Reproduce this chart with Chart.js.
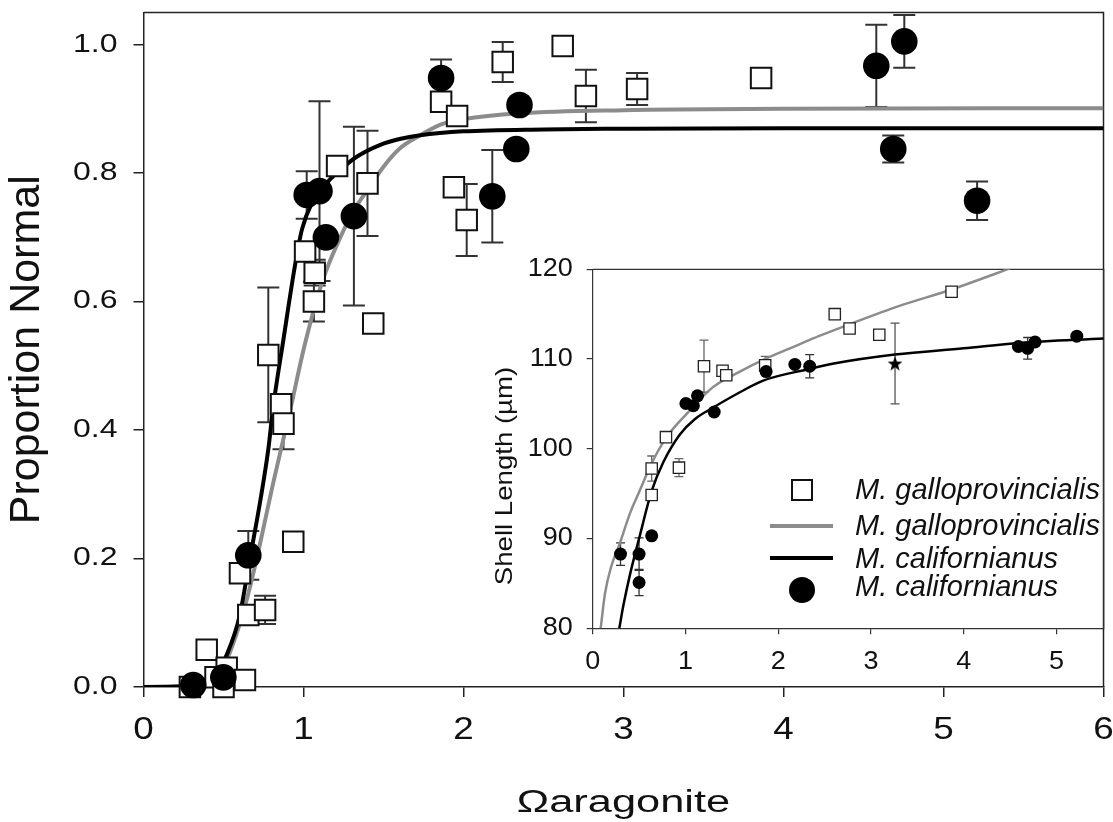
<!DOCTYPE html>
<html>
<head>
<meta charset="utf-8">
<script src="https://cdn.jsdelivr.net/npm/chart.js@4/dist/chart.umd.min.js"></script>
<style>
  html, body { margin: 0; padding: 0; background: #fff; }
  #wrap { position: relative; width: 1113px; height: 822px; overflow: hidden; background: #fff; }
  #main { position: absolute; left: 0; top: -4px; }
  #inset { position: absolute; left: 470px; top: 240px; }
  .sym { position: absolute; box-sizing: border-box; }
  .lt { position: absolute; left: 855px; font-family: 'Liberation Sans', Arial, sans-serif; font-style: italic;
        font-size: 29px; line-height: 29px; height: 29px; color: #111; white-space: nowrap; }
</style>
</head>
<body>
<div id="wrap">
  <canvas id="main" width="1120" height="826" style="width:1120px;height:826px"></canvas>
  <canvas id="inset" width="643" height="450" style="width:643px;height:450px"></canvas>
  <div class="sym" style="left:791px;top:479px;width:22px;height:22px;border:2px solid #111;background:#fff"></div>
  <div class="sym" style="left:770px;top:524px;width:63px;height:4px;background:#8c8c8c"></div>
  <div class="sym" style="left:770px;top:556px;width:63px;height:4px;background:#000"></div>
  <div class="sym" style="left:789px;top:577px;width:26px;height:26px;border-radius:50%;background:#000"></div>
  <div class="lt" style="top:475px">M. galloprovincialis</div>
  <div class="lt" style="top:511px">M. galloprovincialis</div>
  <div class="lt" style="top:544px">M. californianus</div>
  <div class="lt" style="top:572px">M. californianus</div>
</div>
<script>
// ---------------- data: main panel (proportion normal vs Omega aragonite) ----------------
const mainXTicks = [0, 1, 2, 3, 4, 5, 6];
const mainXTickLabels = ['0', '1', '2', '3', '4', '5', '6'];
const mainYTicks = [0, 0.2, 0.4, 0.6, 0.8, 1.0];
const mainYTickLabels = ['0.0', '0.2', '0.4', '0.6', '0.8', '1.0'];

const mainGalloX = [0.29, 0.395, 0.45, 0.52, 0.50, 0.634, 0.603, 0.655, 0.76, 0.936, 0.86, 0.875, 0.78, 1.01, 1.07, 1.065, 1.21, 1.40, 1.436, 1.86, 1.96, 1.94, 2.02, 2.245, 2.62, 2.765, 3.085, 3.86];
const mainGalloY = [0.0, 0.058, 0.015, 0.03, 0.0, 0.011, 0.177, 0.112, 0.12, 0.226, 0.44, 0.41, 0.517, 0.678, 0.645, 0.60, 0.811, 0.784, 0.566, 0.911, 0.889, 0.778, 0.727, 0.973, 0.998, 0.92, 0.931, 0.948];
const mainGalloErr = [0, 0, 0, 0, 0, 0, 0, 0, 0.022, 0, 0, 0.04, 0.105, 0, 0.02, 0.031, 0, 0.082, 0, 0, 0, 0, 0.056, 0.031, 0, 0.041, 0.025, 0];

const mainCalX = [0.311, 0.499, 0.655, 1.02, 1.10, 1.14, 1.315, 1.86, 2.18, 2.33, 2.35, 4.58, 4.755, 4.686, 5.21];
const mainCalY = [0.003, 0.015, 0.205, 0.766, 0.772, 0.70, 0.733, 0.948, 0.764, 0.8375, 0.906, 0.967, 1.005, 0.8375, 0.757];
const mainCalErr = [0, 0, 0.038, 0.037, 0.14, 0, 0.139, 0.029, 0.072, 0, 0, 0.064, 0.041, 0.021, 0.03];

// fitted curves
const fitGalloX = [0, 0.3, 0.4, 0.46, 0.52, 0.6, 0.665, 0.73, 0.81, 0.92, 1.01, 1.12, 1.23, 1.31, 1.415, 1.5, 1.6, 1.73, 1.86, 2.0, 2.35, 3.0, 4.0, 6.0];
const fitGalloY = [0, 0.002, 0.008, 0.018, 0.042, 0.097, 0.155, 0.225, 0.317, 0.435, 0.535, 0.633, 0.70, 0.74, 0.779, 0.81, 0.838, 0.859, 0.876, 0.884, 0.893, 0.898, 0.90, 0.901];
const fitCalX = [0, 0.25, 0.3, 0.4, 0.46, 0.52, 0.6, 0.665, 0.73, 0.78, 0.81, 0.874, 0.946, 0.99, 1.05, 1.15, 1.23, 1.33, 1.48, 1.6, 1.73, 2.0, 2.5, 3.0, 4.0, 6.0];
const fitCalY = [0, 0.001, 0.003, 0.012, 0.022, 0.05, 0.11, 0.2, 0.29, 0.37, 0.435, 0.54, 0.655, 0.712, 0.752, 0.786, 0.805, 0.825, 0.844, 0.853, 0.859, 0.865, 0.868, 0.869, 0.87, 0.87];

// ---------------- data: inset (shell length vs Omega aragonite) ----------------
const insetXTicks = [0, 1, 2, 3, 4, 5];
const insetXTickLabels = ['0', '1', '2', '3', '4', '5'];
const insetYTicks = [80, 90, 100, 110, 120];
const insetYTickLabels = ['80', '90', '100', '110', '120'];

const insetGalloX = [0.636, 0.636, 0.79, 0.93, 1.20, 1.40, 1.44, 1.86, 2.61, 2.77, 3.09, 3.87];
const insetGalloY = [94.85, 97.8, 101.3, 97.9, 109.2, 108.7, 108.2, 109.3, 115.0, 113.4, 112.7, 117.5];
const insetGalloErr = [0, 1.4, 0, 1.0, 2.9, 0, 0, 1.0, 0, 0, 0, 0];

const insetCalX = [0.30, 0.50, 0.50, 0.636, 1.005, 1.085, 1.13, 1.31, 1.87, 2.18, 2.34, 4.59, 4.69, 4.77, 5.22];
const insetCalY = [88.27, 88.27, 85.1, 90.3, 105.05, 104.8, 105.9, 104.1, 108.6, 109.4, 109.2, 111.4, 111.2, 111.9, 112.55];
const insetCalErr = [1.25, 1.8, 1.45, 0, 0, 0, 0, 0, 0, 0, 1.3, 0, 1.2, 0, 0];

const insetStarX = [3.26];
const insetStarY = [109.5];
const insetStarErr = [4.5];

const insetFitGalloX = [0.086, 0.133, 0.2, 0.294, 0.402, 0.51, 0.636, 0.797, 1.013, 1.30, 1.587, 1.838, 2.198, 2.45, 2.774, 3.3, 3.87, 4.5];
const insetFitGalloY = [80, 83.9, 86.9, 89.5, 92.8, 95.4, 98.4, 101.3, 103.9, 106.9, 108.6, 109.9, 111.5, 112.6, 113.9, 115.9, 117.75, 120.1];
const insetFitCalX = [0.287, 0.33, 0.40, 0.51, 0.636, 0.761, 0.94, 1.1, 1.30, 1.587, 1.838, 2.34, 2.6, 3.26, 4.0, 4.6, 5.51];
const insetFitCalY = [80, 82.5, 85.9, 90.4, 95.3, 98.5, 101.6, 103.3, 104.6, 106.3, 107.6, 108.9, 109.5, 110.5, 111.2, 111.8, 112.3];

// ---------------- helpers ----------------
const FONT = "'Liberation Sans', Arial, Helvetica, sans-serif";
const pts = (xs, ys) => xs.map((x, i) => ({ x: x, y: ys[i] }));

// horizontally widened lettering, as in the reference figure
function stretchText(ctx, rules) {
  const orig = ctx.fillText;
  ctx.fillText = function (text, x, y) {
    const m = /(\d+(?:\.\d+)?)px/.exec(this.font);
    const sx = m ? (rules[parseFloat(m[1])] || 1) : 1;
    if (sx === 1) return orig.call(this, text, x, y);
    this.save();
    this.translate(x, y);
    this.scale(sx, 1);
    orig.call(this, text, 0, 0);
    this.restore();
  };
}

const noEdgePad = s => { s.paddingLeft = 0; s.paddingRight = 0; s.paddingTop = 0; s.paddingBottom = 0; };

const errorBars = {
  id: 'errorBars',
  beforeDatasetsDraw(chart) {
    const ctx = chart.ctx, xs = chart.scales.x, ys = chart.scales.y;
    chart.data.datasets.forEach(ds => {
      if (!ds.errors) return;
      ctx.save();
      ctx.strokeStyle = ds.errorColor;
      ctx.lineWidth = ds.errorWidth;
      const hw = ds.capWidth / 2;
      ds.data.forEach((p, i) => {
        const e = ds.errors[i];
        if (!e) return;
        const px = xs.getPixelForValue(p.x);
        const y1 = ys.getPixelForValue(p.y + e);
        const y2 = ys.getPixelForValue(p.y - e);
        ctx.beginPath();
        ctx.moveTo(px, y1); ctx.lineTo(px, y2);
        ctx.moveTo(px - hw, y1); ctx.lineTo(px + hw, y1);
        ctx.moveTo(px - hw, y2); ctx.lineTo(px + hw, y2);
        ctx.stroke();
      });
      ctx.restore();
    });
  }
};

const frame = {
  id: 'frame',
  beforeDatasetsDraw(chart, args, opts) {
    const { left, right, top, bottom } = chart.chartArea;
    const ctx = chart.ctx;
    ctx.save();
    ctx.strokeStyle = opts.color;
    ctx.lineWidth = opts.width;
    ctx.beginPath();
    ctx.moveTo(left, top); ctx.lineTo(right, top); ctx.lineTo(right, bottom);
    ctx.stroke();
    ctx.restore();
  }
};

// ---------------- main chart ----------------
const mainCtx = document.getElementById('main').getContext('2d');
stretchText(mainCtx, { 25: 1.28, 32: 1.15, 31: 1.4 });

new Chart(mainCtx, {
  type: 'scatter',
  data: {
    datasets: [
      { label: 'M. californianus', data: pts(mainCalX, mainCalY), errors: mainCalErr,
        errorColor: '#333', errorWidth: 2, capWidth: 22,
        pointStyle: 'circle', pointRadius: 13.3, pointHoverRadius: 13.3,
        backgroundColor: '#000', borderColor: '#000', borderWidth: 0, order: 0, clip: false },
      { label: 'M. galloprovincialis', data: pts(mainGalloX, mainGalloY), errors: mainGalloErr,
        errorColor: '#333', errorWidth: 2, capWidth: 22,
        pointStyle: 'rect', pointRadius: 14.5, pointHoverRadius: 14.5,
        backgroundColor: '#fff', borderColor: '#111', borderWidth: 2, order: 1, clip: false },
      { label: 'M. californianus fit', data: pts(fitCalX, fitCalY), showLine: true, pointRadius: 0,
        borderColor: '#000', borderWidth: 4, cubicInterpolationMode: 'monotone', fill: false, order: 2 },
      { label: 'M. galloprovincialis fit', data: pts(fitGalloX, fitGalloY), showLine: true, pointRadius: 0,
        borderColor: '#8c8c8c', borderWidth: 4, cubicInterpolationMode: 'monotone', fill: false, order: 3 }
    ]
  },
  options: {
    responsive: false,
    animation: false,
    devicePixelRatio: 1,
    events: [],
    layout: { padding: { left: 0, right: 9, top: 12, bottom: 0 } },
    plugins: { legend: { display: false }, tooltip: { enabled: false }, frame: { color: '#222', width: 1.5 } },
    scales: {
      x: {
        type: 'linear', position: 'bottom', min: 0, max: 6,
        afterBuildTicks: s => { s.ticks = mainXTicks.map(v => ({ value: v })); },
        afterFit: s => { s.height = 135; noEdgePad(s); },
        ticks: { callback: (v, i) => mainXTickLabels[i], font: { family: FONT, size: 32 }, color: '#111',
                 padding: 14, autoSkip: false, maxRotation: 0, minRotation: 0 },
        grid: { drawOnChartArea: false, drawTicks: true, tickLength: 10, color: '#222', lineWidth: 1.5 },
        border: { display: true, color: '#222', width: 1.5 },
        title: { display: true, text: 'Ωaragonite', font: { family: FONT, size: 31 }, color: '#111',
                 padding: { top: 0, bottom: 0 } }
      },
      y: {
        type: 'linear', position: 'left', min: 0, max: 1.05,
        afterBuildTicks: s => { s.ticks = mainYTicks.map(v => ({ value: v })); },
        afterFit: s => { s.width = 143.5; noEdgePad(s); },
        ticks: { callback: (v, i) => mainYTickLabels[i], font: { family: FONT, size: 25 }, color: '#111',
                 padding: 16, autoSkip: false },
        grid: { drawOnChartArea: false, drawTicks: true, tickLength: 10, color: '#222', lineWidth: 1.5 },
        border: { display: true, color: '#222', width: 1.5 },
        title: { display: true, text: 'Proportion Normal', font: { family: FONT, size: 43 }, color: '#111',
                 padding: { top: 1, bottom: 0 } }
      }
    }
  },
  plugins: [errorBars, frame]
});

// ---------------- inset chart ----------------
const starImg = document.createElement('canvas');
starImg.width = 16; starImg.height = 16;
(function () {
  const c = starImg.getContext('2d');
  c.fillStyle = '#000';
  c.beginPath();
  for (let k = 0; k < 10; k++) {
    const r = k % 2 === 0 ? 7.8 : 3.2;
    const a = -Math.PI / 2 + k * Math.PI / 5;
    const px = 8 + r * Math.cos(a), py = 8.6 + r * Math.sin(a);
    if (k === 0) c.moveTo(px, py); else c.lineTo(px, py);
  }
  c.closePath();
  c.fill();
})();

const insetTitle = {
  id: 'insetTitle',
  afterDraw(chart) {
    const ctx = chart.ctx;
    ctx.save();
    ctx.translate(35, 236);
    ctx.rotate(-Math.PI / 2);
    ctx.font = '24px ' + FONT;
    ctx.fillStyle = '#111';
    ctx.textAlign = 'center';
    ctx.textBaseline = 'middle';
    ctx.fillText('Shell Length (µm)', 0, 0);
    ctx.restore();
  }
};

const insetCtx = document.getElementById('inset').getContext('2d');
stretchText(insetCtx, { 25: 1.08, 24: 1.15 });

new Chart(insetCtx, {
  type: 'scatter',
  data: {
    datasets: [
      { label: 'M. californianus', data: pts(insetCalX, insetCalY), errors: insetCalErr,
        errorColor: '#333', errorWidth: 1.3, capWidth: 9,
        pointStyle: 'circle', pointRadius: 6.5, pointHoverRadius: 6.5,
        backgroundColor: '#000', borderColor: '#000', borderWidth: 0, order: 0, clip: false },
      { label: 'star', data: pts(insetStarX, insetStarY), errors: insetStarErr,
        errorColor: '#555', errorWidth: 1.3, capWidth: 9,
        pointStyle: starImg, pointRadius: 8, order: 0, clip: false },
      { label: 'M. galloprovincialis', data: pts(insetGalloX, insetGalloY), errors: insetGalloErr,
        errorColor: '#666', errorWidth: 1.3, capWidth: 9,
        pointStyle: 'rect', pointRadius: 8, pointHoverRadius: 8,
        backgroundColor: '#fff', borderColor: '#222', borderWidth: 1.3, order: 1, clip: false },
      { label: 'M. californianus fit', data: pts(insetFitCalX, insetFitCalY), showLine: true, pointRadius: 0,
        borderColor: '#000', borderWidth: 2.5, cubicInterpolationMode: 'monotone', fill: false, order: 2 },
      { label: 'M. galloprovincialis fit', data: pts(insetFitGalloX, insetFitGalloY), showLine: true, pointRadius: 0,
        borderColor: '#8c8c8c', borderWidth: 2.5, cubicInterpolationMode: 'monotone', fill: false, order: 3 }
    ]
  },
  options: {
    responsive: false,
    animation: false,
    devicePixelRatio: 1,
    events: [],
    layout: { padding: { left: 0, right: 9, top: 29.3, bottom: 0 } },
    plugins: { legend: { display: false }, tooltip: { enabled: false }, frame: { color: '#333', width: 1.2 } },
    scales: {
      x: {
        type: 'linear', position: 'bottom', min: 0, max: 5.51,
        afterBuildTicks: s => { s.ticks = insetXTicks.map(v => ({ value: v })); },
        afterFit: s => { s.height = 61.7; noEdgePad(s); },
        ticks: { callback: (v, i) => insetXTickLabels[i], font: { family: FONT, size: 25 }, color: '#111',
                 padding: 13, autoSkip: false, maxRotation: 0, minRotation: 0 },
        grid: { drawOnChartArea: false, drawTicks: true, tickLength: 6, color: '#333', lineWidth: 1.2 },
        border: { display: true, color: '#333', width: 1.2 },
        title: { display: false }
      },
      y: {
        type: 'linear', position: 'left', min: 80, max: 120,
        afterBuildTicks: s => { s.ticks = insetYTicks.map(v => ({ value: v })); },
        afterFit: s => { s.width = 122.7; noEdgePad(s); },
        ticks: { callback: (v, i) => insetYTickLabels[i], font: { family: FONT, size: 25 }, color: '#111',
                 padding: 14, autoSkip: false },
        grid: { drawOnChartArea: false, drawTicks: true, tickLength: 6, color: '#333', lineWidth: 1.2 },
        border: { display: true, color: '#333', width: 1.2 },
        title: { display: false }
      }
    }
  },
  plugins: [errorBars, frame, insetTitle]
});
</script>
</body>
</html>
